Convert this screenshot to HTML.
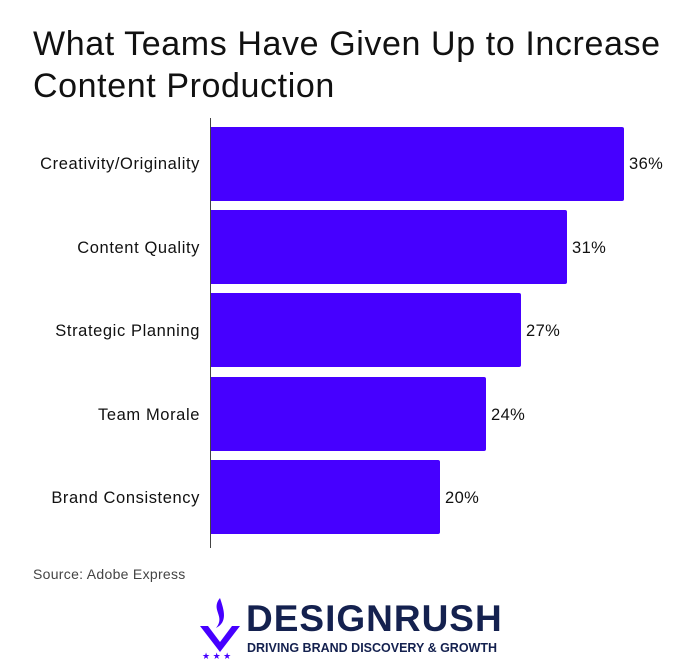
<!DOCTYPE html>
<html><head><style>
body{margin:0;background:#fff;width:700px;height:671px;position:relative;overflow:hidden;font-family:"Liberation Sans",sans-serif;}
.t{position:absolute;left:33px;top:23px;font-size:34px;letter-spacing:0.6px;line-height:42px;color:#111;}
.ax{position:absolute;left:210px;top:118px;width:1px;height:430px;background:#444;}
.b{position:absolute;left:211px;height:74px;background:#4600ff;border-radius:0 2px 2px 0;}
.l{position:absolute;right:500px;font-size:16.5px;letter-spacing:0.6px;color:#111;text-align:right;white-space:nowrap;}
.v{position:absolute;font-size:16.5px;letter-spacing:0.4px;color:#111;}
.src{position:absolute;left:33px;top:566px;font-size:14px;letter-spacing:0.3px;color:#444;}
</style></head><body>
<div class="t">What Teams Have Given Up to Increase<br>Content Production</div>
<div class="ax"></div>
<div class="b" style="top:127px;width:413px"></div>
<div class="b" style="top:210px;width:356px"></div>
<div class="b" style="top:293px;width:310px"></div>
<div class="b" style="top:377px;width:275px"></div>
<div class="b" style="top:460px;width:229px"></div>
<div class="l" style="top:155px">Creativity/Originality</div>
<div class="l" style="top:239px">Content Quality</div>
<div class="l" style="top:322px">Strategic Planning</div>
<div class="l" style="top:406px">Team Morale</div>
<div class="l" style="top:489px">Brand Consistency</div>
<div class="v" style="left:629px;top:155px">36%</div>
<div class="v" style="left:572px;top:239px">31%</div>
<div class="v" style="left:526px;top:322px">27%</div>
<div class="v" style="left:491px;top:406px">24%</div>
<div class="v" style="left:445px;top:489px">20%</div>
<div class="src">Source: Adobe Express</div>
<svg style="position:absolute;left:198px;top:596px" width="44" height="64">
<path d="M22 2 C12 14 28 20 18 32 C30 26 26 14 22 2Z" fill="#4600ff"/>
<path d="M2 30 L22 56 L42 30 L34 30 L22 46 L10 30Z" fill="#4600ff"/>
<text x="4" y="63" font-size="9" fill="#4600ff">★ ★ ★</text>
</svg>
<div style="position:absolute;left:246px;top:599px;font-size:37px;font-weight:bold;color:#14214f;letter-spacing:1px;line-height:40px">DESIGNRUSH</div>
<div style="position:absolute;left:247px;top:640px;font-size:12.5px;font-weight:bold;color:#14214f;line-height:16px">DRIVING BRAND DISCOVERY &amp; GROWTH</div>
</body></html>
